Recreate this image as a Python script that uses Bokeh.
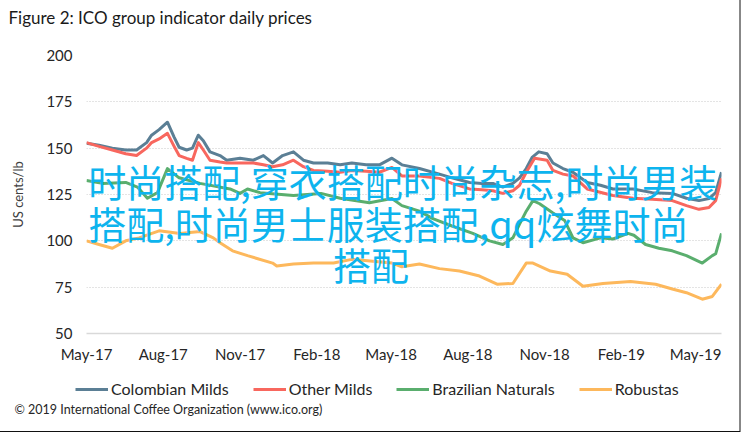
import pandas as pd
from bokeh.plotting import figure
from bokeh.layouts import column
from bokeh.models import (Range1d, FixedTicker, DatetimeTickFormatter, Legend,
                          LegendItem, Label)
from bokeh.embed import file_html
from bokeh.resources import INLINE

# ---------------- data (US cents/lb) ----------------
cm_dates = ["2017-05-01", "2017-05-16", "2017-06-01", "2017-06-17", "2017-06-30", "2017-07-12",
            "2017-07-18", "2017-07-27", "2017-08-06", "2017-08-14", "2017-08-20", "2017-08-29",
            "2017-09-05", "2017-09-12", "2017-09-18", "2017-09-26", "2017-10-08", "2017-10-16",
            "2017-11-01", "2017-11-17", "2017-11-29", "2017-12-10", "2017-12-22", "2018-01-04",
            "2018-01-16", "2018-01-28", "2018-02-14", "2018-03-01", "2018-03-15", "2018-04-01",
            "2018-04-17", "2018-05-02", "2018-05-14", "2018-06-04", "2018-06-28", "2018-07-13",
            "2018-08-03", "2018-08-18", "2018-08-31", "2018-09-12", "2018-09-24", "2018-10-02",
            "2018-10-10", "2018-10-17", "2018-10-25", "2018-11-04", "2018-11-11", "2018-11-23",
            "2018-12-05", "2018-12-22", "2019-01-07", "2019-01-22", "2019-02-15", "2019-03-10",
            "2019-04-03", "2019-04-20", "2019-05-05", "2019-05-17", "2019-05-25", "2019-06-01"]
cm_vals = [152.7, 151.6, 150.0, 149.0, 149.0, 153.0, 157.0, 160.0, 164.0, 156.0, 150.5, 149.0,
           150.0, 157.0, 154.0, 148.0, 146.0, 143.5, 144.6, 143.5, 146.0, 142.0, 146.0, 148.0,
           143.5, 142.0, 142.0, 141.0, 142.0, 141.0, 141.0, 144.6, 141.0, 139.0, 136.0, 134.0,
           131.5, 131.0, 131.0, 129.0, 131.0, 134.0, 139.0, 145.0, 148.0, 147.0, 142.0, 139.0,
           137.0, 131.5, 130.0, 128.0, 128.0, 126.0, 125.6, 123.0, 121.7, 122.8, 126.0, 137.0]

om_dates = ["2017-05-01", "2017-05-16", "2017-06-01", "2017-06-17", "2017-06-30", "2017-07-12",
            "2017-07-18", "2017-07-27", "2017-08-06", "2017-08-14", "2017-08-20", "2017-08-29",
            "2017-09-05", "2017-09-12", "2017-09-18", "2017-09-26", "2017-10-08", "2017-10-16",
            "2017-11-01", "2017-11-17", "2017-11-29", "2017-12-10", "2017-12-22", "2018-01-04",
            "2018-01-16", "2018-01-28", "2018-02-14", "2018-03-01", "2018-03-15", "2018-04-01",
            "2018-04-17", "2018-05-02", "2018-05-14", "2018-06-04", "2018-06-28", "2018-07-13",
            "2018-08-03", "2018-08-18", "2018-08-31", "2018-09-12", "2018-09-24", "2018-10-02",
            "2018-10-10", "2018-10-20", "2018-11-04", "2018-11-11", "2018-11-23", "2018-12-05",
            "2018-12-22", "2019-01-22", "2019-02-15", "2019-03-10", "2019-04-03", "2019-04-20",
            "2019-05-05", "2019-05-17", "2019-05-25", "2019-06-01"]
om_vals = [153.0, 151.0, 149.0, 147.0, 146.0, 150.0, 153.0, 155.0, 158.0, 151.0, 146.0, 144.5,
           143.5, 153.0, 149.0, 143.5, 142.5, 142.0, 142.0, 142.0, 141.0, 140.0, 141.0, 143.5,
           140.0, 138.0, 137.5, 137.0, 138.0, 137.5, 137.0, 139.6, 135.0, 135.0, 133.7, 131.0,
           128.0, 127.5, 127.0, 125.6, 127.0, 130.0, 137.0, 144.6, 143.5, 138.0, 136.0, 135.0,
           128.0, 124.5, 123.0, 122.5, 121.7, 119.0, 117.0, 118.0, 121.7, 133.7]

bn_dates = ["2017-05-01", "2017-05-20", "2017-06-17", "2017-07-01", "2017-07-13", "2017-07-25",
            "2017-08-06", "2017-08-20", "2017-09-14", "2017-10-20", "2017-11-01", "2017-11-10",
            "2017-11-25", "2018-01-04", "2018-02-06", "2018-03-01", "2018-04-05", "2018-05-02",
            "2018-05-14", "2018-06-04", "2018-06-20", "2018-07-13", "2018-08-07", "2018-08-27",
            "2018-09-12", "2018-09-24", "2018-10-02", "2018-10-10", "2018-10-18", "2018-10-26",
            "2018-11-11", "2018-11-25", "2018-12-05", "2018-12-17", "2019-01-07", "2019-01-22",
            "2019-02-09", "2019-02-16", "2019-03-02", "2019-03-18", "2019-04-03", "2019-04-20",
            "2019-05-09", "2019-05-21", "2019-05-25", "2019-06-01"]
bn_vals = [132.6, 131.0, 131.5, 129.0, 123.0, 126.0, 139.0, 134.0, 131.0, 128.0, 125.6, 128.0,
           126.0, 124.5, 125.6, 123.0, 120.6, 122.8, 119.0, 116.0, 112.0, 108.0, 104.0, 100.0,
           98.0, 101.6, 109.0, 116.0, 121.7, 120.0, 115.0, 111.0, 101.6, 99.0, 101.6, 101.0,
           104.0, 103.0, 98.0, 96.0, 94.6, 92.0, 88.0, 92.0, 93.0, 104.0]

rb_dates = ["2017-05-01", "2017-05-16", "2017-06-01", "2017-06-17", "2017-07-03", "2017-07-27",
            "2017-08-21", "2017-09-14", "2017-09-30", "2017-10-08", "2017-10-23", "2017-11-10",
            "2017-12-10", "2017-12-15", "2018-01-04", "2018-01-28", "2018-02-21", "2018-03-15",
            "2018-04-09", "2018-05-02", "2018-05-14", "2018-06-04", "2018-06-28", "2018-07-22",
            "2018-08-15", "2018-09-05", "2018-09-24", "2018-10-10", "2018-10-18", "2018-11-08",
            "2018-11-28", "2018-12-17", "2019-01-10", "2019-02-12", "2019-03-14", "2019-04-03",
            "2019-04-20", "2019-05-09", "2019-05-21", "2019-06-01"]
rb_vals = [100.0, 98.0, 96.0, 100.0, 101.6, 105.4, 104.0, 105.0, 101.6, 99.0, 94.6, 92.0,
           88.0, 86.4, 87.5, 88.0, 88.0, 90.0, 89.0, 88.0, 86.0, 87.5, 85.0, 83.7,
           81.0, 76.6, 77.0, 88.0, 88.0, 83.7, 82.0, 75.5, 77.0, 78.0, 76.6, 74.0,
           72.0, 68.5, 70.0, 76.6]

series_names = ["Colombian Milds", "Other Milds", "Brazilian Naturals", "Robustas"]
series_colors = ["#5B7F95", "#F8675E", "#5AAE6E", "#FDB85C"]

y_ticks = [50, 75, 100, 125, 150, 175, 200]
x_tick_dates = ["2017-05-01", "2017-08-01", "2017-11-01", "2018-02-01", "2018-05-01",
                "2018-08-01", "2018-11-01", "2019-02-01", "2019-05-01"]
x_start, x_end = "2017-05-01", "2019-06-01"

title_text = "Figure 2: ICO group indicator daily prices"
y_label = "US cents/lb"
footer_text = "\u00a9 2019 International Coffee Organization (www.ico.org)"
overlay_lines = ["时尚搭配,穿衣搭配时尚杂志,时尚男装", "搭配,时尚男士服装搭配,qq炫舞时尚", "搭配"]
overlay_x = ["2017-05-03", "2017-05-03", "2018-04-07"]
overlay_y = [132.6, 109.8, 88.0]
overlay_align = ["left", "left", "center"]


def ms(d):
    return pd.Timestamp(d).timestamp() * 1000.0


FONT = "Lato"
W = 727
H_TOP, H_MAIN, H_BOT = 30, 336, 53


def strip(height):
    f = figure(width=W, height=height, output_backend="svg", toolbar_location=None,
               x_range=Range1d(0, W), y_range=Range1d(0, height),
               x_axis_location=None, y_axis_location=None, min_border=0,
               frame_align=False)
    f.outline_line_color = None
    f.grid.visible = False
    f.background_fill_color = "white"
    f.border_fill_color = "white"
    return f


# ---------------- title strip ----------------
t = strip(H_TOP)
t.add_layout(Label(x=8, y=13, text=title_text, text_align="left", text_baseline="middle",
                   text_font=FONT, text_font_size="17px", text_color="#1a1a1a"))

# ---------------- main chart ----------------
p = figure(width=W, height=H_MAIN, output_backend="svg", toolbar_location=None,
           x_axis_type="datetime",
           x_range=Range1d(ms(x_start), ms(x_end)), y_range=Range1d(50, 200),
           min_border_left=86, min_border_right=6, min_border_top=25, min_border_bottom=33,
           frame_align=False)
p.outline_line_color = None
p.background_fill_color = "white"
p.border_fill_color = "white"

p.xgrid.visible = False
p.ygrid.grid_line_color = "#C8C8C8"
p.ygrid.grid_line_dash = "1 2"
p.ygrid.grid_line_width = 1.2

p.yaxis.ticker = FixedTicker(ticks=y_ticks)
p.yaxis.axis_line_color = None
p.yaxis.major_tick_line_color = None
p.yaxis.minor_tick_line_color = None
p.yaxis.major_label_text_font = FONT
p.yaxis.major_label_text_font_size = "15px"
p.yaxis.major_label_text_color = "#262626"
p.yaxis.major_label_standoff = 8
p.yaxis.axis_label = y_label
p.yaxis.axis_label_text_font = FONT
p.yaxis.axis_label_text_font_size = "13px"
p.yaxis.axis_label_text_font_style = "normal"
p.yaxis.axis_label_text_color = "#404040"
p.yaxis.axis_label_standoff = 17

p.xaxis.ticker = FixedTicker(ticks=[ms(d) for d in x_tick_dates], minor_ticks=[])
p.xaxis.formatter = DatetimeTickFormatter(days="%b-%y", months="%b-%y", years="%b-%y")
p.xaxis.axis_line_color = "#D9D9D9"
p.xaxis.axis_line_width = 1.5
p.xaxis.major_tick_line_color = None
p.xaxis.minor_tick_line_color = None
p.xaxis.major_label_text_font = FONT
p.xaxis.major_label_text_font_size = "15px"
p.xaxis.major_label_text_color = "#262626"
p.xaxis.major_label_standoff = 5

all_dates = [cm_dates, om_dates, bn_dates, rb_dates]
all_vals = [cm_vals, om_vals, bn_vals, rb_vals]
for d, v, c in zip(all_dates, all_vals, series_colors):
    p.line(pd.to_datetime(d), v, line_color=c, line_width=3, line_join="round")

# overlay text (watermark on the reference image), drawn above the lines
for tx, xd, yv, al in zip(overlay_lines, overlay_x, overlay_y, overlay_align):
    p.add_layout(Label(x=ms(xd), y=yv, text=tx, text_align=al, text_baseline="middle",
                       text_font="Noto Sans CJK SC", text_font_size="38px",
                       text_color="#0DB4EE", level="overlay"))

# ---------------- legend + source strip ----------------
q = strip(H_BOT)
# the same series, outside this strip's view, only to give the legend its glyphs
legend_rs = [q.line(pd.to_datetime(d), v, line_color=c, line_width=3)
             for d, v, c in zip(all_dates, all_vals, series_colors)]
legend = Legend(items=[LegendItem(label=n, renderers=[r]) for n, r in zip(series_names, legend_rs)],
                orientation="horizontal", location=(75, 21),
                label_text_font=FONT, label_text_font_size="16px", label_text_color="#262626",
                glyph_width=33, glyph_height=16, label_standoff=3, spacing=24,
                border_line_color=None, background_fill_alpha=0,
                margin=0, padding=4)
q.add_layout(legend)
q.add_layout(Label(x=14, y=10, text=footer_text, text_align="left", text_baseline="middle",
                   text_font=FONT, text_font_size="12.5px", text_color="#262626"))

layout = column(t, p, q, spacing=0,
                styles={"box-shadow": "6px 5.5px 0 6.5px #ffffff, 6px 5.5px 0 7.5px #111111"})

open("out.html", "w").write(file_html(layout, INLINE))
